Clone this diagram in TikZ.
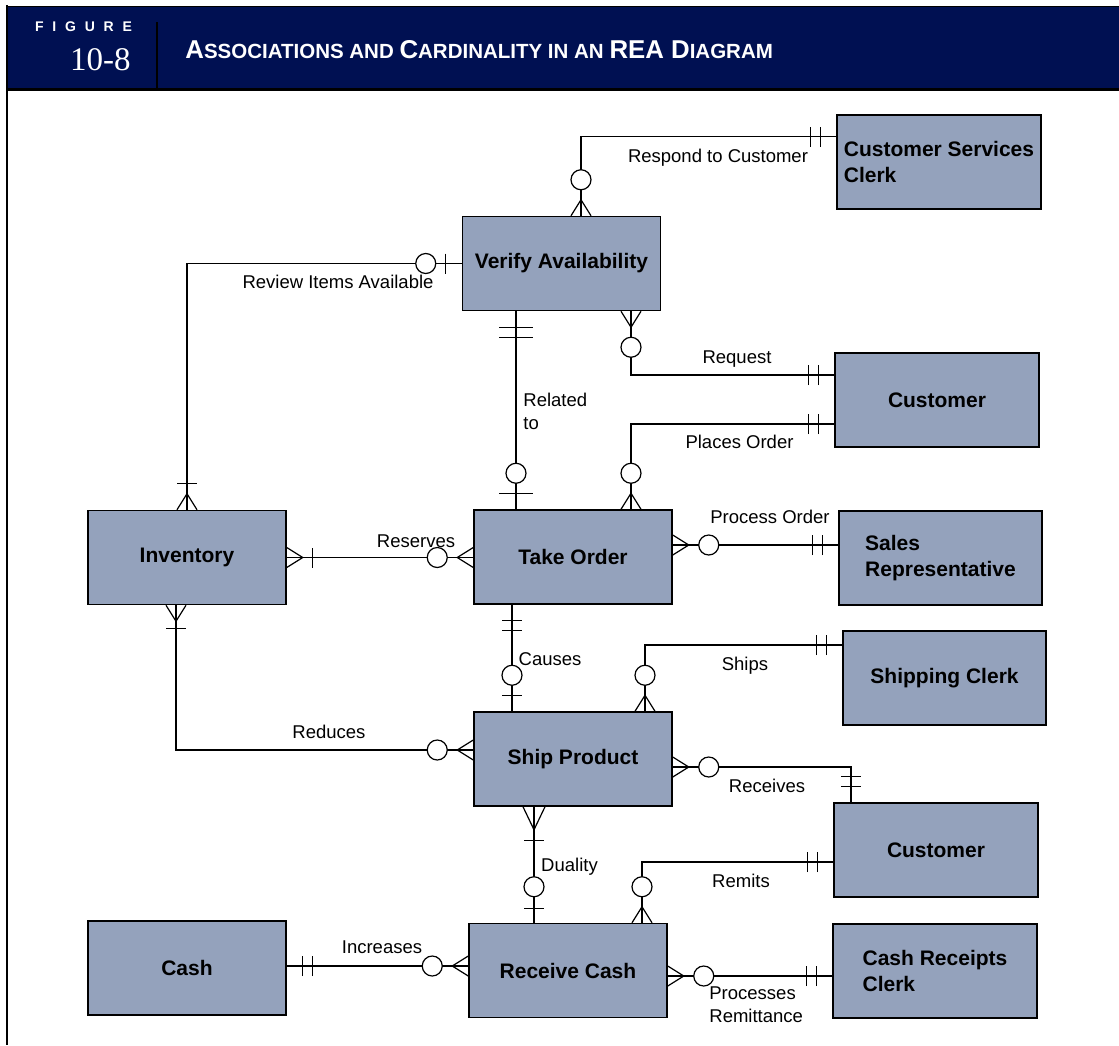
\documentclass[tikz,border=0pt]{standalone}
\usepackage{fontspec}
\setmainfont{Liberation Sans}
\newfontfamily\chiffres{Liberation Serif}
\usetikzlibrary{decorations.markings}
\definecolor{bandeau}{RGB}{0,16,82}
\definecolor{entite}{RGB}{148,162,188}
\newcommand{\gc}[1]{{\fontsize{12.9}{14}\selectfont #1}}
\newcommand{\pc}[1]{{\fontsize{10.25}{12}\selectfont #1}}

\begin{document}
\begin{tikzpicture}[x=0.5pt, y=-0.5pt,
    ent/.style={draw=black, line width=0.75pt, fill=entite, minimum height=47pt, minimum width=99pt,
      inner sep=0pt, align=center, font=\fontsize{10.5}{13}\selectfont\bfseries},
    lbl/.style={inner sep=0pt, font=\fontsize{9.25}{11.5}\selectfont},
    lien/.style={line width=0.6pt},
    bar half/.store in=\bh, bar half=5pt,
    crow len/.store in=\cl, crow len=8pt,
    crow half/.store in=\ch, crow half=5pt,
    mk/.style 2 args={postaction={decorate, decoration={markings, mark=at position #1 with {#2}}}},
    crow a/.style={mk={0}{\draw (0pt,-\ch) -- (\cl,0pt) -- (0pt,\ch);}},
    crow b/.style={mk={1}{\draw (0pt,-\ch) -- (-\cl,0pt) -- (0pt,\ch);}},
    ring a/.style={mk={0}{\draw[fill=white] (18pt,0pt) circle (5pt);}},
    ring b/.style={mk={1}{\draw[fill=white] (-18pt,0pt) circle (5pt);}},
    bar a/.style={mk={0}{\draw (#1,-\bh) -- (#1,\bh);}},
    bar b/.style={mk={1}{\draw (-#1,-\bh) -- (-#1,\bh);}},
    two a/.style={bar a=8pt, bar a=13pt},
    two b/.style={bar b=8pt, bar b=13pt}]
  \useasboundingbox (0,0) rectangle (1119,1045);

  % Bandeau
  \fill[bandeau] (7,6) rectangle (1119,88);
  \draw[line width=0.4pt] (7,6) -- (1119,6);
  \draw[line width=1.5pt] (7,89) -- (1119,89);
  \draw[line width=1.2pt] (7,5) -- (7,1045);
  \draw[line width=1pt] (157,22) -- (157,88);
  \node[text=white, inner sep=0pt, anchor=base, font=\fontsize{7}{8}\selectfont\bfseries] (fig) at (83.5,31)
    {F\kern4.4pt I\kern4.4pt G\kern4.4pt U\kern4.4pt R\kern4.4pt E};
  \node[text=white, inner sep=0pt, anchor=base east, font=\chiffres\fontsize{16.5}{18}\selectfont] (num) at (131,70) {10-8};
  \node[text=white, inner sep=0pt, anchor=base west, font=\bfseries] (titre) at (185,58)
    {\gc{A}\pc{SSOCIATIONS AND }\gc{C}\pc{ARDINALITY IN AN }\gc{REA D}\pc{IAGRAM}};

  % Entités
  \node[ent] (va) at (561.5,263.5) {Verify Availability};
  \node[ent, minimum width=102pt, align=left] (csc) at (939,162) {Customer Services\\Clerk};
  \node[ent, minimum width=102pt] (cli1) at (937,400) {Customer};
  \node[ent, minimum width=101.5pt, align=left] (vend) at (940.5,558) {Sales\\Representative};
  \node[ent] (inv) at (187,557.5) {Inventory};
  \node[ent] (cde) at (573,557) {Take Order};
  \node[ent, minimum width=101.5pt] (expe) at (944.5,678) {Shipping Clerk};
  \node[ent] (livr) at (573,759) {Ship Product};
  \node[ent, minimum width=102pt] (cli2) at (936,850) {Customer};
  \node[ent] (encs) at (568,970.5) {Receive Cash};
  \node[ent] (cash) at (187,968) {Cash};
  \node[ent, minimum width=102pt, align=left] (caissier) at (935,971) {Cash Receipts\\Clerk};

  % Associations et cardinalités
  \draw[lien, crow a, ring a, two b] ([xshift=9.75pt]va.north) |- ([yshift=12.75pt]csc.west);
  \draw[lien, bar a=8pt, ring a, crow b, bar b=13pt] (va.west) -| (inv.north);
  \draw[lien, bar half=8.5pt, two a, ring b, bar b=8pt] ([xshift=-22.75pt]va.south) coordinate (rel) -- (rel |- cde.north);
  \draw[lien, crow a, ring a, two b] ([xshift=34.75pt]va.south) |- ([yshift=12.5pt]cli1.west);
  \draw[lien, crow a, ring a, two b] ([xshift=29pt]cde.north) |- ([yshift=-12pt]cli1.west);
  \draw[lien, crow a, bar a=13pt, crow b, ring b] (inv.east) -- (inv.east -| cde.west);
  \draw[lien, crow a, ring a, two b] ([yshift=6pt]cde.east) coordinate (po) -- (po -| vend.west);
  \draw[lien, two a, ring b, bar b=8pt] ([xshift=-30.5pt]cde.south) coordinate (ca) -- (ca |- livr.north);
  \draw[lien, crow a, ring a, two b] ([xshift=36pt]livr.north) |- ([yshift=16.5pt]expe.west);
  \draw[lien, crow a, bar a=11.5pt, crow b, ring b] ([xshift=-5.5pt]inv.south) |- ([yshift=4.5pt]livr.west);
  \draw[lien, crow a, ring a, two b] ([yshift=-4pt]livr.east) -| ([xshift=-42.5pt]cli2.north);
  \draw[lien, crow len=11.5pt, crow half=5.5pt, crow a, bar a=17pt, ring b, bar b=7pt]
    ([xshift=-19.5pt]livr.south) coordinate (du) -- (du |- encs.north);
  \draw[lien, crow a, ring a, two b] ([xshift=37pt]encs.north) |- ([yshift=-6pt]cli2.west);
  \draw[lien, crow a, ring a, two b] ([yshift=-2.75pt]encs.east) coordinate (pr) -- (pr -| caissier.west);
  \draw[lien, two a, crow b, ring b] ([yshift=1pt]cash.east) coordinate (au) -- (au -| encs.west);

  % Libellés
  \node[lbl, anchor=base] (l-rep) at (718,162) {Respond to Customer};
  \node[lbl, anchor=base] (l-rev) at (338,288) {Review Items Available};
  \node[lbl, anchor=north west, align=left] (l-rel) at (523,393) {Related\\to};
  \node[lbl, anchor=base] (l-req) at (737,363) {Request};
  \node[lbl, anchor=base] (l-pla) at (739.5,448) {Places Order};
  \node[lbl, anchor=base] (l-res) at (416,547) {Reserves};
  \node[lbl, anchor=base] (l-pro) at (770,523) {Process Order};
  \node[lbl, anchor=base] (l-cau) at (550,665) {Causes};
  \node[lbl, anchor=base] (l-shi) at (745,670) {Ships};
  \node[lbl, anchor=base] (l-red) at (329,738) {Reduces};
  \node[lbl, anchor=base] (l-rec) at (767,792) {Receives};
  \node[lbl, anchor=base] (l-dua) at (569.5,871) {Duality};
  \node[lbl, anchor=base] (l-rem) at (741,887) {Remits};
  \node[lbl, anchor=north west, align=left] (l-prr) at (709,986) {Processes\\Remittance};
  \node[lbl, anchor=base] (l-inc) at (382,953) {Increases};
\end{tikzpicture}
\end{document}
